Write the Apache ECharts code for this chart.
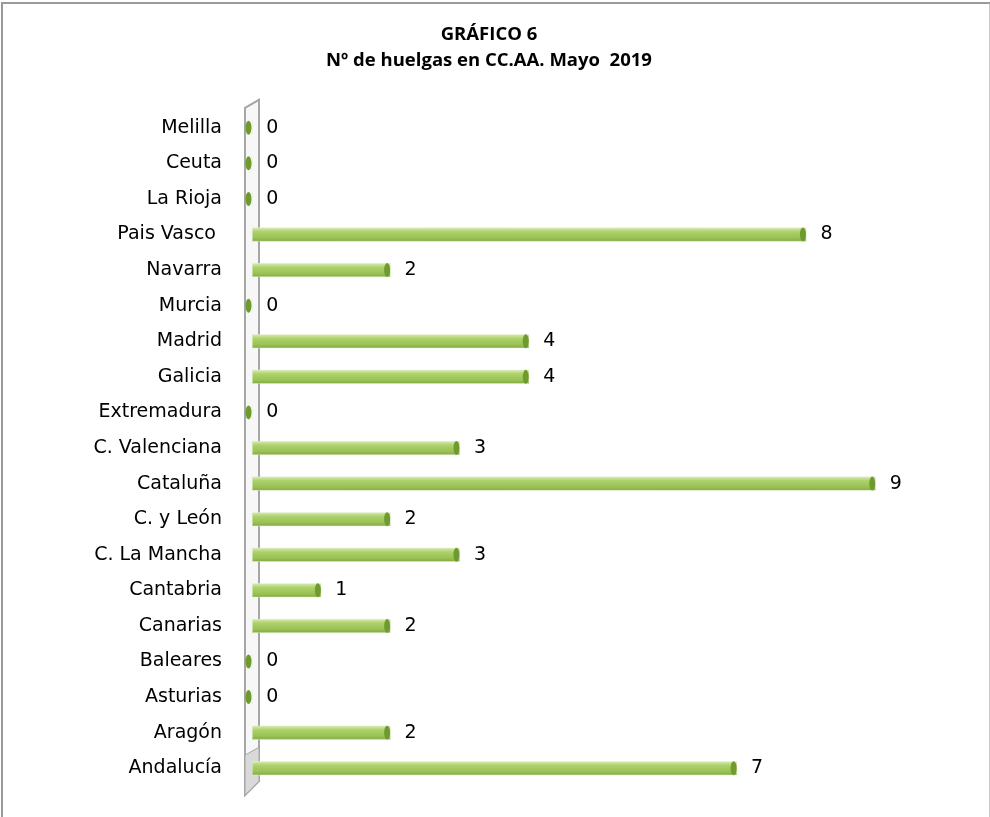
<!DOCTYPE html>
<html>
<head>
<meta charset="utf-8">
<script src="https://cdn.jsdelivr.net/npm/echarts@6/dist/echarts.min.js"></script>
<style>
  html, body { margin: 0; padding: 0; background: #fff; }
  #frame {
    position: absolute; left: 1px; top: 2px; width: 986px; height: 830px;
    border-top: 2px solid #9a9a9a; border-left: 2px solid #9a9a9a; border-right: 2px solid #c8c8c8;
  }
  #chart { position: absolute; left: 0; top: 0; width: 990px; height: 817px; }
</style>
</head>
<body>
<div id="frame"></div>
<div id="chart"></div>
<script>
// comunidades, de abajo hacia arriba
const regiones = [
  "Andalucía", "Aragón", "Asturias", "Baleares", "Canarias", "Cantabria",
  "C. La Mancha", "C. y León", "Cataluña", "C. Valenciana", "Extremadura",
  "Galicia", "Madrid", "Murcia", "Navarra", "Pais Vasco ", "La Rioja",
  "Ceuta", "Melilla"
];
const huelgas = [7, 2, 0, 0, 2, 1, 3, 2, 9, 3, 0, 4, 4, 0, 2, 8, 0, 0, 0];

const chart = echarts.init(document.getElementById("chart"));
const fuente = "'DejaVu Sans', 'Open Sans', sans-serif";

const option = {
  animation: false,
  title: {
    text: "GRÁFICO 6\nNº de huelgas en CC.AA. Mayo  2019",
    left: 484,
    top: 17,
    textAlign: "center",
    textStyle: { fontFamily: "'Open Sans', sans-serif", fontSize: 18.5, fontWeight: "bold", color: "#000", lineHeight: 26 }
  },
  grid: { left: 252, right: 45, top: 110, bottom: 31 },
  xAxis: {
    type: "value",
    min: 0,
    max: 10,
    show: false
  },
  yAxis: {
    type: "category",
    data: regiones,
    axisTick: { show: false },
    axisLine: { show: false },
    axisLabel: { fontFamily: fuente, fontSize: 19, color: "#000", margin: 30 }
  },
  series: [
    {
      type: "bar",
      data: huelgas,
      barWidth: 14,
      itemStyle: {
        color: new echarts.graphic.LinearGradient(0, 0, 0, 1, [
          { offset: 0, color: "#d8ecb4" },
          { offset: 0.3, color: "#acd26a" },
          { offset: 0.75, color: "#99c154" },
          { offset: 1, color: "#80a840" }
        ]),
        borderColor: "#e6efd6",
        borderWidth: 0.5
      },
      label: {
        show: true,
        position: "right",
        distance: 14,
        fontFamily: fuente,
        fontSize: 19,
        color: "#000"
      },
      z: 2
    },
    {
      // tapa elíptica del extremo de cada barra
      type: "pictorialBar",
      data: huelgas,
      symbol: "circle",
      symbolSize: [6, 14],
      symbolPosition: "end",
      symbolOffset: [0, 0],
      barGap: "-100%",
      itemStyle: { color: "#6f9a2e", borderColor: "#e8f2d2", borderWidth: 1.5 },
      z: 3
    }
  ]
};
chart.setOption(option);

// pared lateral del eje (decoración 3D), situada a partir de la escala
const x0 = chart.convertToPixel({ xAxisIndex: 0 }, 0);
const yTop = chart.convertToPixel({ yAxisIndex: 0 }, regiones[regiones.length - 1]) - 28;
const yBot = chart.convertToPixel({ yAxisIndex: 0 }, regiones[0]) + 27;
chart.setOption({
  graphic: [{
    type: "polygon",
    z: 1,
    shape: { points: [[x0 - 7, yTop + 8], [x0 + 7, yTop], [x0 + 7, yBot - 14], [x0 - 7, yBot]] },
    style: { fill: "#f7f7f7", stroke: "#a6a6a6", lineWidth: 2 }
  }, {
    type: "polygon",
    z: 1,
    shape: { points: [[x0 - 7, yBot - 40], [x0 + 7, yBot - 48], [x0 + 7, yBot - 14], [x0 - 7, yBot]] },
    style: { fill: "#d9d9d9", stroke: "#a6a6a6", lineWidth: 1 }
  }]
});
</script>
</body>
</html>
